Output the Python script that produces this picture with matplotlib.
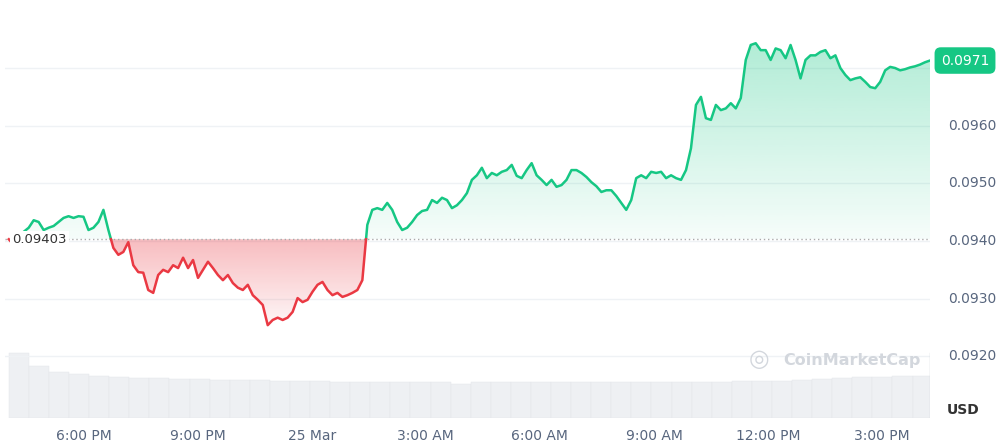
import matplotlib.pyplot as plt
import numpy as np
from matplotlib.patches import Polygon

# price, sampled evenly from ~4:02 PM (24 Mar) to ~4:15 PM (25 Mar)
prices_e5 = [9403, 9393, 9405, 9416, 9423, 9436, 9433, 9419, 9423, 9426, 9433, 9440, 9443, 9440, 9443, 9442,
             9419, 9423, 9433, 9454, 9419, 9388, 9376, 9381, 9398, 9358, 9346, 9345, 9315, 9310, 9341, 9350,
             9346, 9358, 9353, 9371, 9353, 9367, 9336, 9350, 9364, 9353, 9341, 9332, 9341, 9327, 9319, 9315,
             9324, 9306, 9298, 9289, 9254, 9263, 9267, 9263, 9267, 9277, 9301, 9294, 9298, 9312, 9324, 9329,
             9315, 9306, 9310, 9303, 9306, 9310, 9315, 9332, 9428, 9454, 9457, 9454, 9466, 9454, 9433, 9419,
             9423, 9433, 9445, 9452, 9454, 9471, 9466, 9475, 9471, 9457, 9462, 9471, 9483, 9506, 9514, 9527,
             9509, 9518, 9514, 9520, 9523, 9532, 9513, 9509, 9523, 9535, 9514, 9506, 9497, 9506, 9494, 9497,
             9506, 9523, 9523, 9518, 9511, 9502, 9495, 9485, 9488, 9488, 9478, 9466, 9454, 9471, 9509, 9514,
             9509, 9520, 9518, 9520, 9509, 9514, 9509, 9506, 9523, 9561, 9636, 9650, 9613, 9610, 9636, 9627,
             9630, 9639, 9630, 9648, 9714, 9740, 9743, 9731, 9731, 9714, 9734, 9731, 9717, 9740, 9714, 9682,
             9714, 9722, 9722, 9728, 9731, 9717, 9722, 9700, 9688, 9679, 9682, 9684, 9676, 9667, 9665, 9676,
             9696, 9702, 9700, 9696, 9698, 9701, 9703, 9706, 9710, 9713]
prices = np.array(prices_e5) / 1e5
open_price = 0.09403
t_start, t_end = 16.03, 40.26  # hours since 24 Mar 00:00
volume = [62, 50, 44, 42, 40, 39, 38, 38, 37, 37, 36, 36, 36, 35, 35, 35, 34, 34, 34, 34, 34, 34, 33, 34,
          34, 34, 34, 34, 34, 34, 34, 34, 34, 34, 34, 34, 35, 35, 35, 36, 37, 38, 39, 39, 40, 40]

tick_hours = [18, 21, 24, 27, 30, 33, 36, 39]
tick_labels = ['6:00 PM', '9:00 PM', '25 Mar', '3:00 AM', '6:00 AM', '9:00 AM', '12:00 PM', '3:00 PM']
y_ticks = [0.0920, 0.0930, 0.0940, 0.0950, 0.0960]

GREEN, RED, GREY = '#16c784', '#ea3943', '#58667e'

fig = plt.figure(figsize=(10, 4.48), dpi=100)
ax = fig.add_axes([0.005, 0.067, 0.925, 0.933])
t = np.linspace(t_start, t_end, len(prices))
ylo, yhi = 0.09093, 0.09818
ax.set_xlim(t_start - 0.1, t_end)
ax.set_ylim(ylo, yhi)

# insert crossing points so the two colours meet at the base line
tt, pp = [t[0]], [prices[0]]
for i in range(1, len(t)):
    a, b = prices[i - 1] - open_price, prices[i] - open_price
    if a * b < 0:
        f = a / (a - b)
        tt.append(t[i - 1] + f * (t[i] - t[i - 1]))
        pp.append(open_price)
    tt.append(t[i])
    pp.append(prices[i])
tt, pp = np.array(tt), np.array(pp)

# volume bars on a twin axis
vax = ax.twinx()
vt = np.linspace(t_start, 39.8, len(volume))
vax.bar(vt, volume, width=(vt[1] - vt[0]), color='#eef0f3', align='edge', edgecolor='#e2e5e9', lw=0.3)
vax.set_ylim(0, 400)
vax.axis('off')
ax.set_zorder(vax.get_zorder() + 1)
ax.patch.set_visible(False)

def grad_fill(above, color, far):
    yy = np.where(pp >= open_price, pp, open_price) if above else np.where(pp <= open_price, pp, open_price)
    verts = list(zip(tt, yy)) + [(tt[-1], open_price), (tt[0], open_price)]
    poly = Polygon(verts, closed=True, facecolor='none', edgecolor='none')
    ax.add_patch(poly)
    rgb = plt.matplotlib.colors.to_rgb(color)
    img = np.zeros((100, 1, 4))
    img[..., :3] = rgb
    g = np.linspace(1, 0, 100)
    img[..., 3] = (0.04 + 0.3 * g)[:, None]
    if above:
        ext = [t_start, t_end, open_price, far]
    else:
        ext = [t_start, t_end, far, open_price]
    im = ax.imshow(img, extent=ext, aspect='auto', origin='upper', zorder=1)
    im.set_clip_path(poly)

grad_fill(True, GREEN, 0.0975)
grad_fill(False, RED, 0.0925)

ax.plot(tt, np.ma.masked_where(pp < open_price, pp), color=GREEN, lw=1.8, zorder=3)
ax.plot(tt, np.ma.masked_where(pp > open_price, pp), color=RED, lw=1.8, zorder=3)
ax.axhline(open_price, color='#aaaaaa', lw=1, ls=(0, (1, 2)), zorder=2)

for y in y_ticks + [0.0970]:
    ax.axhline(y, color='#eff2f5', lw=1, zorder=0)

ax.set_xticks(tick_hours)
ax.set_xticklabels(tick_labels)
ax.set_yticks([])
for s in ax.spines.values():
    s.set_visible(False)
ax.tick_params(axis='x', length=0, colors=GREY, labelsize=10, pad=8)

for y in y_ticks:
    fig.text(0.948, ax.transData.transform((0, y))[1] / 448, f'{y:.4f}', color=GREY, fontsize=10, va='center')
ax.text(t_start + 0.1, open_price, f'{open_price}', color='#333333', fontsize=9.5, va='center',
        bbox=dict(facecolor='white', edgecolor='none', pad=1.5))
fig.text(0.965, ax.transData.transform((0, prices[-1]))[1] / 448, f'{prices[-1]:.4f}', color='white',
         fontsize=10, va='center', ha='center',
         bbox=dict(boxstyle='round,pad=0.45', facecolor=GREEN, edgecolor='none'))
fig.text(0.749, 0.198, '◎', color='#d3d7dd', fontsize=17, va='center')
fig.text(0.783, 0.195, 'CoinMarketCap', color='#d3d7dd', fontsize=11.5, va='center', fontweight='bold')
fig.text(0.963, 0.075, 'USD', color='#333333', fontsize=10, ha='center', fontweight='bold')
ax.axvline(t_end, ymax=0.155, color='#d0d4da', lw=1)

fig.savefig('out.png')
